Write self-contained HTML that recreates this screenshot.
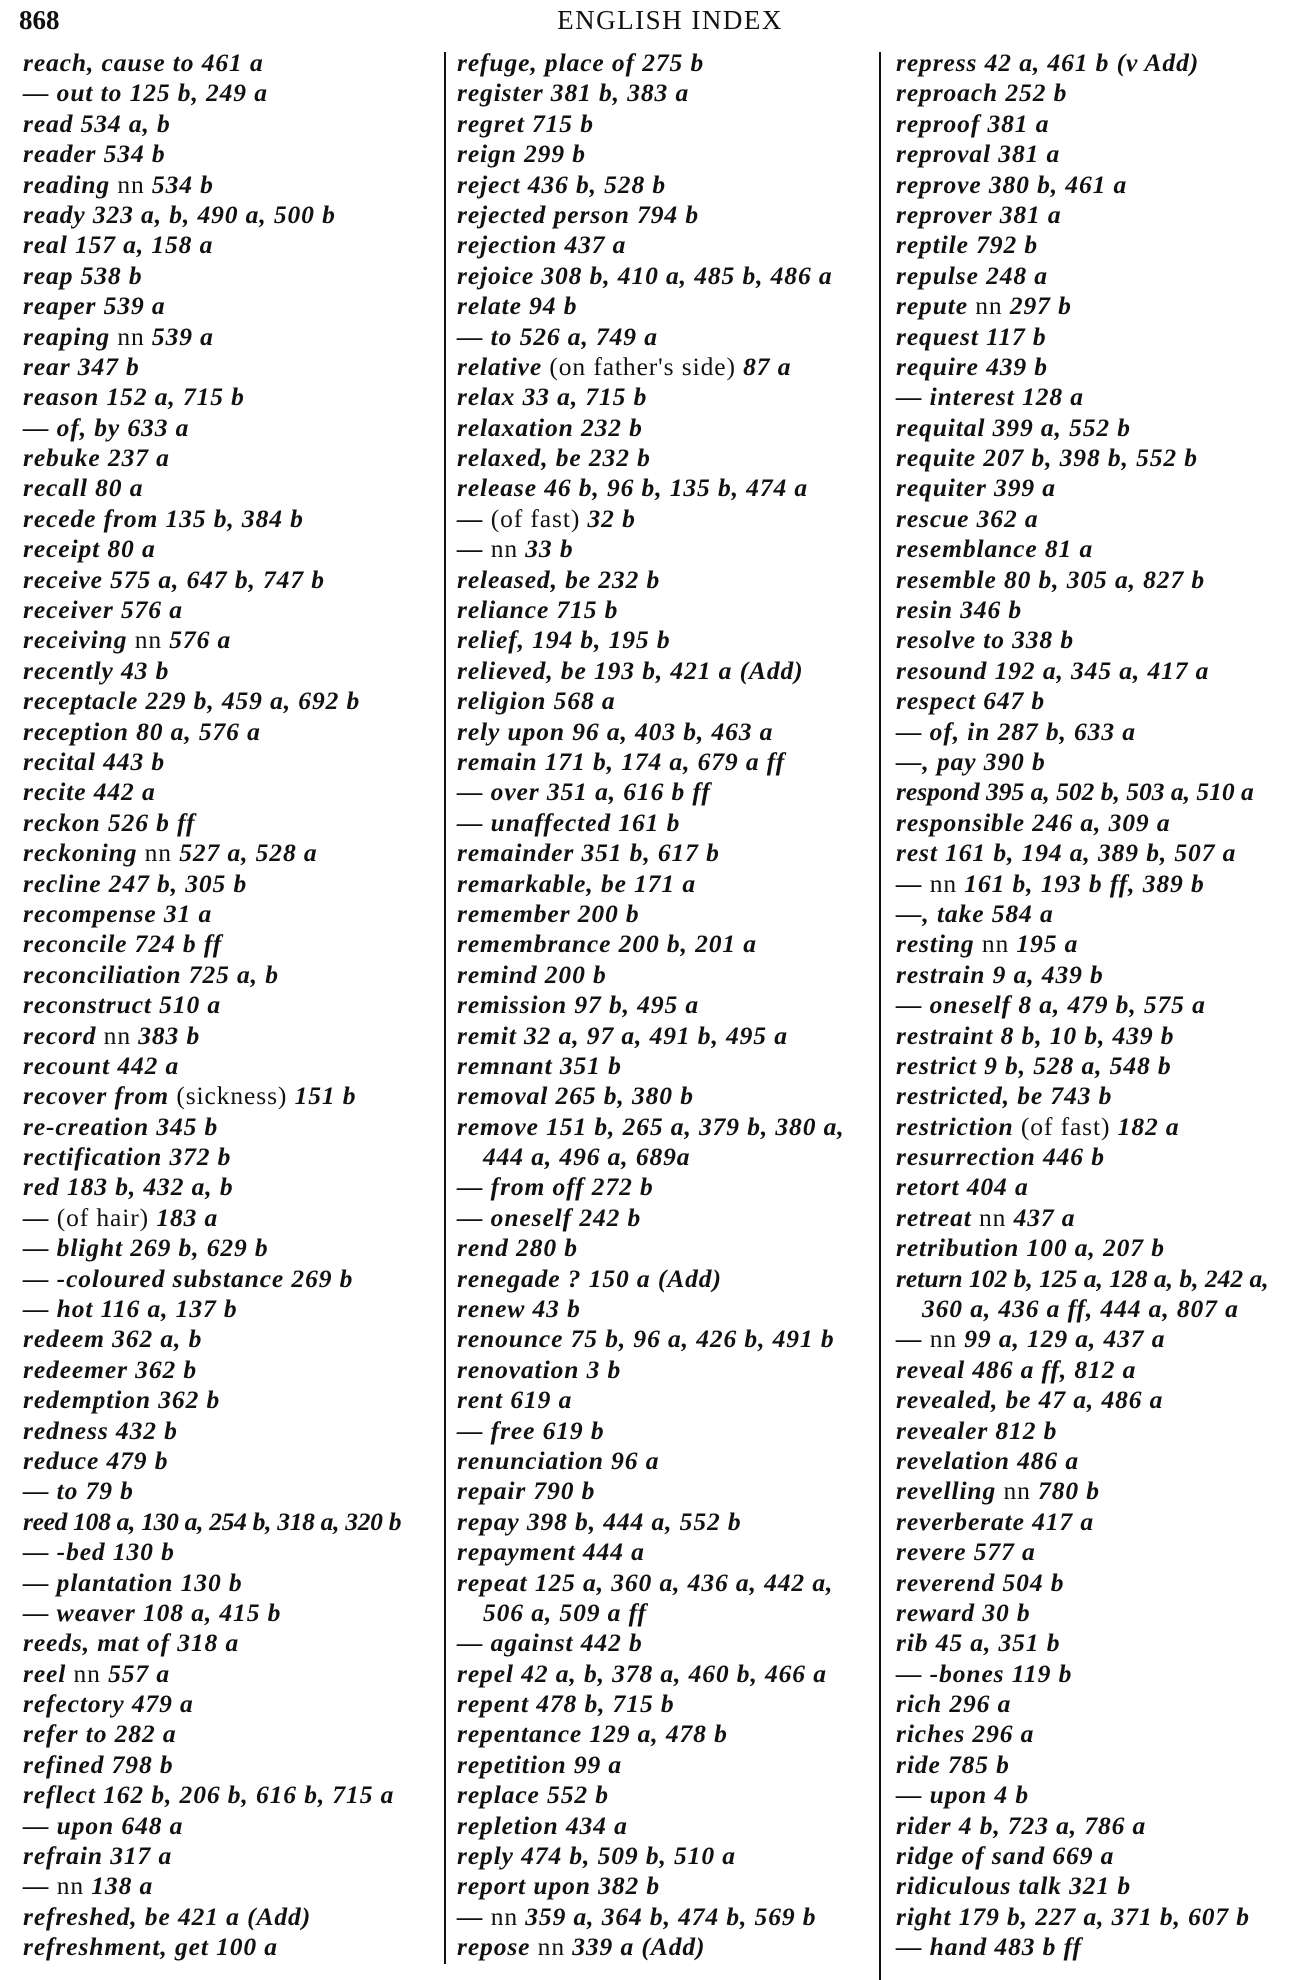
<!DOCTYPE html>
<html><head><meta charset="utf-8"><style>
html,body{margin:0;padding:0;background:#fff;}
body{width:1314px;height:1980px;position:relative;overflow:hidden;font-family:"Liberation Serif",serif;color:#111;}
.h{position:absolute;top:5px;font-size:27px;font-weight:bold;}
.col{position:absolute;top:48px;font-size:25.5px;line-height:30.4px;font-style:italic;font-weight:bold;white-space:nowrap;letter-spacing:0.9px;}
.col div{height:30.4px;}
.r{font-style:normal;font-weight:normal;}
.i{padding-left:26px;}
.v{position:absolute;width:2px;background:#111;}
</style></head><body>
<div class="h" style="left:19px;">868</div>
<div class="h" style="left:0;width:1340px;text-align:center;font-weight:normal;letter-spacing:1.5px;">ENGLISH INDEX</div>
<div class="v" style="left:444px;top:52px;height:1912px;"></div>
<div class="v" style="left:879px;top:52px;height:1928px;"></div>

<div class="col" style="left:23px;">
<div>reach, cause to 461 a</div>
<div>— out to 125 b, 249 a</div>
<div>read 534 a, b</div>
<div>reader 534 b</div>
<div>reading <span class="r">nn</span> 534 b</div>
<div>ready 323 a, b, 490 a, 500 b</div>
<div>real 157 a, 158 a</div>
<div>reap 538 b</div>
<div>reaper 539 a</div>
<div>reaping <span class="r">nn</span> 539 a</div>
<div>rear 347 b</div>
<div>reason 152 a, 715 b</div>
<div>— of, by 633 a</div>
<div>rebuke 237 a</div>
<div>recall 80 a</div>
<div>recede from 135 b, 384 b</div>
<div>receipt 80 a</div>
<div>receive 575 a, 647 b, 747 b</div>
<div>receiver 576 a</div>
<div>receiving <span class="r">nn</span> 576 a</div>
<div>recently 43 b</div>
<div>receptacle 229 b, 459 a, 692 b</div>
<div>reception 80 a, 576 a</div>
<div>recital 443 b</div>
<div>recite 442 a</div>
<div>reckon 526 b ff</div>
<div>reckoning <span class="r">nn</span> 527 a, 528 a</div>
<div>recline 247 b, 305 b</div>
<div>recompense 31 a</div>
<div>reconcile 724 b ff</div>
<div>reconciliation 725 a, b</div>
<div>reconstruct 510 a</div>
<div>record <span class="r">nn</span> 383 b</div>
<div>recount 442 a</div>
<div>recover from <span class="r">(sickness)</span> 151 b</div>
<div>re-creation 345 b</div>
<div>rectification 372 b</div>
<div>red 183 b, 432 a, b</div>
<div>— <span class="r">(of hair)</span> 183 a</div>
<div>— blight 269 b, 629 b</div>
<div>— -coloured substance 269 b</div>
<div>— hot 116 a, 137 b</div>
<div>redeem 362 a, b</div>
<div>redeemer 362 b</div>
<div>redemption 362 b</div>
<div>redness 432 b</div>
<div>reduce 479 b</div>
<div>— to 79 b</div>
<div style="letter-spacing:-0.3px">reed 108 a, 130 a, 254 b, 318 a, 320 b</div>
<div>— -bed 130 b</div>
<div>— plantation 130 b</div>
<div>— weaver 108 a, 415 b</div>
<div>reeds, mat of 318 a</div>
<div>reel <span class="r">nn</span> 557 a</div>
<div>refectory 479 a</div>
<div>refer to 282 a</div>
<div>refined 798 b</div>
<div>reflect 162 b, 206 b, 616 b, 715 a</div>
<div>— upon 648 a</div>
<div>refrain 317 a</div>
<div>— <span class="r">nn</span> 138 a</div>
<div>refreshed, be 421 a (Add)</div>
<div>refreshment, get 100 a</div>
</div>

<div class="col" style="left:457px;">
<div>refuge, place of 275 b</div>
<div>register 381 b, 383 a</div>
<div>regret 715 b</div>
<div>reign 299 b</div>
<div>reject 436 b, 528 b</div>
<div>rejected person 794 b</div>
<div>rejection 437 a</div>
<div>rejoice 308 b, 410 a, 485 b, 486 a</div>
<div>relate 94 b</div>
<div>— to 526 a, 749 a</div>
<div>relative <span class="r">(on father's side)</span> 87 a</div>
<div>relax 33 a, 715 b</div>
<div>relaxation 232 b</div>
<div>relaxed, be 232 b</div>
<div>release 46 b, 96 b, 135 b, 474 a</div>
<div>— <span class="r">(of fast)</span> 32 b</div>
<div>— <span class="r">nn</span> 33 b</div>
<div>released, be 232 b</div>
<div>reliance 715 b</div>
<div>relief, 194 b, 195 b</div>
<div>relieved, be 193 b, 421 a (Add)</div>
<div>religion 568 a</div>
<div>rely upon 96 a, 403 b, 463 a</div>
<div>remain 171 b, 174 a, 679 a ff</div>
<div>— over 351 a, 616 b ff</div>
<div>— unaffected 161 b</div>
<div>remainder 351 b, 617 b</div>
<div>remarkable, be 171 a</div>
<div>remember 200 b</div>
<div>remembrance 200 b, 201 a</div>
<div>remind 200 b</div>
<div>remission 97 b, 495 a</div>
<div>remit 32 a, 97 a, 491 b, 495 a</div>
<div>remnant 351 b</div>
<div>removal 265 b, 380 b</div>
<div>remove 151 b, 265 a, 379 b, 380 a,</div>
<div class="i">444 a, 496 a, 689a</div>
<div>— from off 272 b</div>
<div>— oneself 242 b</div>
<div>rend 280 b</div>
<div>renegade ? 150 a (Add)</div>
<div>renew 43 b</div>
<div>renounce 75 b, 96 a, 426 b, 491 b</div>
<div>renovation 3 b</div>
<div>rent 619 a</div>
<div>— free 619 b</div>
<div>renunciation 96 a</div>
<div>repair 790 b</div>
<div>repay 398 b, 444 a, 552 b</div>
<div>repayment 444 a</div>
<div>repeat 125 a, 360 a, 436 a, 442 a,</div>
<div class="i">506 a, 509 a ff</div>
<div>— against 442 b</div>
<div>repel 42 a, b, 378 a, 460 b, 466 a</div>
<div>repent 478 b, 715 b</div>
<div>repentance 129 a, 478 b</div>
<div>repetition 99 a</div>
<div>replace 552 b</div>
<div>repletion 434 a</div>
<div>reply 474 b, 509 b, 510 a</div>
<div>report upon 382 b</div>
<div>— <span class="r">nn</span> 359 a, 364 b, 474 b, 569 b</div>
<div>repose <span class="r">nn</span> 339 a (Add)</div>
</div>

<div class="col" style="left:896px;">
<div>repress 42 a, 461 b (v Add)</div>
<div>reproach 252 b</div>
<div>reproof 381 a</div>
<div>reproval 381 a</div>
<div>reprove 380 b, 461 a</div>
<div>reprover 381 a</div>
<div>reptile 792 b</div>
<div>repulse 248 a</div>
<div>repute <span class="r">nn</span> 297 b</div>
<div>request 117 b</div>
<div>require 439 b</div>
<div>— interest 128 a</div>
<div>requital 399 a, 552 b</div>
<div>requite 207 b, 398 b, 552 b</div>
<div>requiter 399 a</div>
<div>rescue 362 a</div>
<div>resemblance 81 a</div>
<div>resemble 80 b, 305 a, 827 b</div>
<div>resin 346 b</div>
<div>resolve to 338 b</div>
<div>resound 192 a, 345 a, 417 a</div>
<div>respect 647 b</div>
<div>— of, in 287 b, 633 a</div>
<div>—, pay 390 b</div>
<div style="letter-spacing:0px">respond 395 a, 502 b, 503 a, 510 a</div>
<div>responsible 246 a, 309 a</div>
<div>rest 161 b, 194 a, 389 b, 507 a</div>
<div>— <span class="r">nn</span> 161 b, 193 b ff, 389 b</div>
<div>—, take 584 a</div>
<div>resting <span class="r">nn</span> 195 a</div>
<div>restrain 9 a, 439 b</div>
<div>— oneself 8 a, 479 b, 575 a</div>
<div>restraint 8 b, 10 b, 439 b</div>
<div>restrict 9 b, 528 a, 548 b</div>
<div>restricted, be 743 b</div>
<div>restriction <span class="r">(of fast)</span> 182 a</div>
<div>resurrection 446 b</div>
<div>retort 404 a</div>
<div>retreat <span class="r">nn</span> 437 a</div>
<div>retribution 100 a, 207 b</div>
<div style="letter-spacing:0px">return 102 b, 125 a, 128 a, b, 242 a,</div>
<div class="i">360 a, 436 a ff, 444 a, 807 a</div>
<div>— <span class="r">nn</span> 99 a, 129 a, 437 a</div>
<div>reveal 486 a ff, 812 a</div>
<div>revealed, be 47 a, 486 a</div>
<div>revealer 812 b</div>
<div>revelation 486 a</div>
<div>revelling <span class="r">nn</span> 780 b</div>
<div>reverberate 417 a</div>
<div>revere 577 a</div>
<div>reverend 504 b</div>
<div>reward 30 b</div>
<div>rib 45 a, 351 b</div>
<div>— -bones 119 b</div>
<div>rich 296 a</div>
<div>riches 296 a</div>
<div>ride 785 b</div>
<div>— upon 4 b</div>
<div>rider 4 b, 723 a, 786 a</div>
<div>ridge of sand 669 a</div>
<div>ridiculous talk 321 b</div>
<div>right 179 b, 227 a, 371 b, 607 b</div>
<div>— hand 483 b ff</div>
</div>
</body></html>
